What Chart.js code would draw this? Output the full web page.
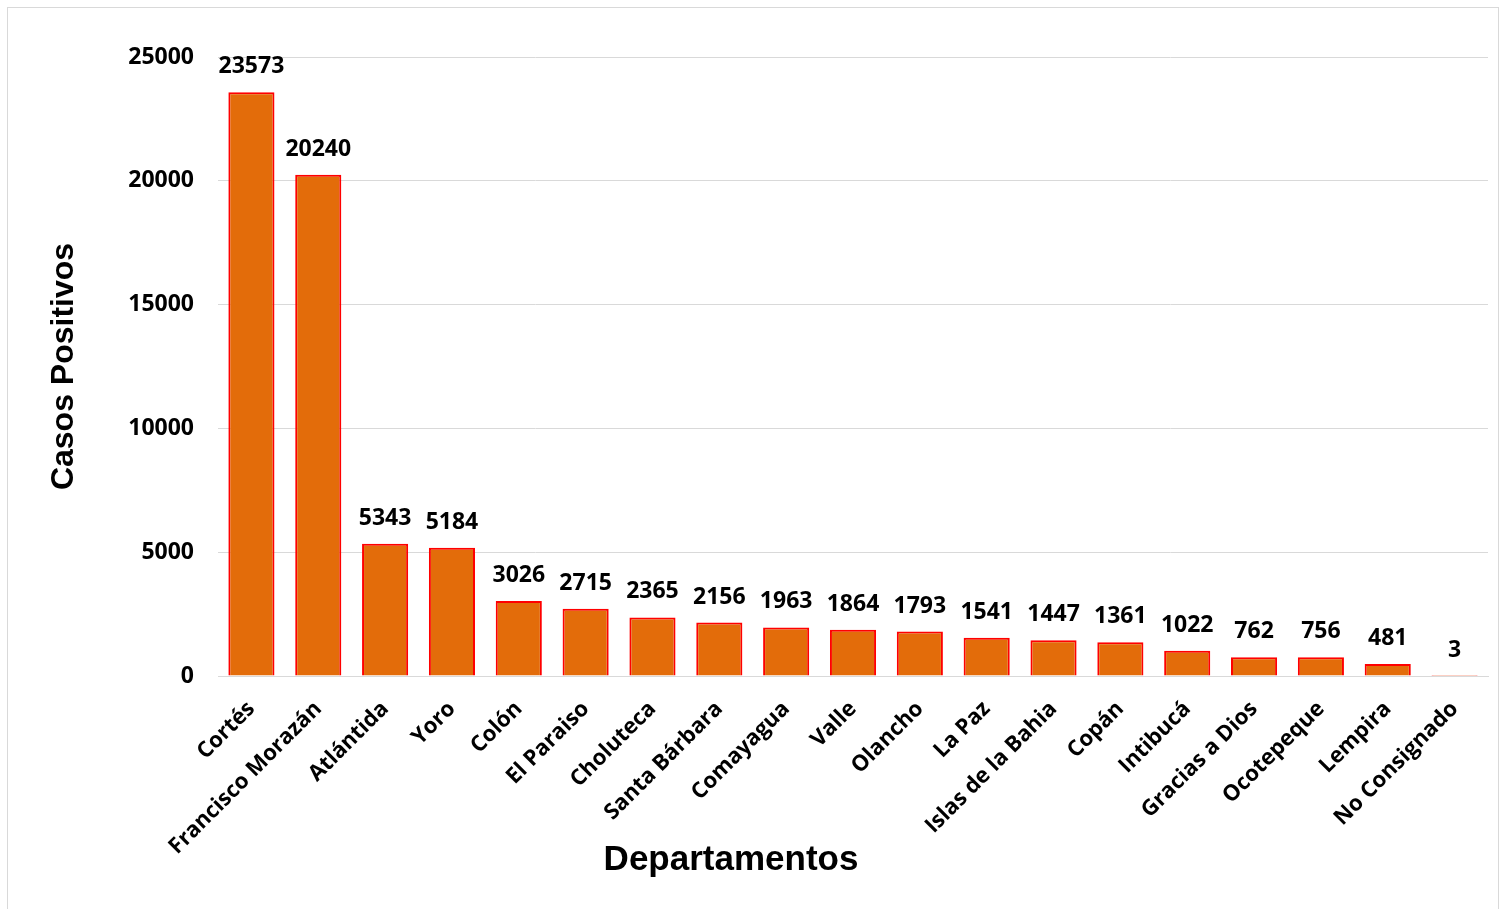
<!DOCTYPE html>
<html>
<head>
<meta charset="utf-8">
<script src="https://cdn.jsdelivr.net/npm/chart.js@4/dist/chart.umd.min.js"></script>
<style>
  body { margin: 0; background: #fff; }
  #wrap { position: relative; width: 1506px; height: 909px; overflow: hidden; }
  #frame { position: absolute; left: 7px; top: 7px; width: 1492px; height: 920px; border: 1px solid #d9d9d9; box-sizing: border-box; }
  canvas { position: absolute; left: 0; top: 0; }
</style>
</head>
<body>
<div id="wrap">
  <div id="frame"></div>
  <canvas id="casos" width="1506" height="909"></canvas>
</div>
<script>
// departamentos y casos positivos
const departamentos = ['Cortés', 'Francisco Morazán', 'Atlántida', 'Yoro', 'Colón', 'El Paraiso',
  'Choluteca', 'Santa Bárbara', 'Comayagua', 'Valle', 'Olancho', 'La Paz', 'Islas de la Bahia',
  'Copán', 'Intibucá', 'Gracias a Dios', 'Ocotepeque', 'Lempira', 'No Consignado'];
const casos = [23573, 20240, 5343, 5184, 3026, 2715, 2365, 2156, 1963, 1864, 1793, 1541, 1447,
  1361, 1022, 762, 756, 481, 3];
const yTicks = [0, 5000, 10000, 15000, 20000, 25000];

const tickFamily = '"Open Sans", Lato, sans-serif';
const labelFont = 'bold 23px ' + tickFamily;

// numbers above bars
const valueLabels = {
  id: 'valueLabels',
  afterDatasetsDraw(chart) {
    const ctx = chart.ctx;
    const meta = chart.getDatasetMeta(0);
    ctx.save();
    ctx.font = labelFont;
    ctx.fillStyle = '#000';
    ctx.textAlign = 'center';
    ctx.textBaseline = 'alphabetic';
    meta.data.forEach((bar, i) => {
      ctx.fillText(String(casos[i]), bar.x, bar.y - 19);
    });
    ctx.restore();
  }
};

// x axis title sits left of centre in the original
const xTitle = {
  id: 'xTitle',
  afterDraw(chart) {
    const ctx = chart.ctx;
    ctx.save();
    ctx.font = 'bold 35px "Liberation Sans", Arial, sans-serif';
    ctx.fillStyle = '#000';
    ctx.textAlign = 'center';
    ctx.textBaseline = 'middle';
    ctx.fillText('Departamentos', 731, 860);
    ctx.restore();
  }
};

new Chart(document.getElementById('casos').getContext('2d'), {
  type: 'bar',
  data: {
    labels: departamentos,
    datasets: [{
      label: 'Casos Positivos',
      data: casos,
      backgroundColor: '#E36C0A',
      borderColor: '#FF0000',
      borderWidth: 2,
      barPercentage: 0.69,
      categoryPercentage: 1
    }]
  },
  options: {
    responsive: false,
    animation: false,
    devicePixelRatio: 1,
    layout: { padding: { top: 57, right: 18, left: 0, bottom: 0 } },
    plugins: {
      legend: { display: false },
      tooltip: { enabled: false }
    },
    scales: {
      x: {
        grid: { display: false, drawTicks: false },
        border: { display: true, color: '#d9d9d9', width: 1 },
        ticks: {
          color: '#000',
          font: { family: tickFamily, size: 22, weight: 'bold' },
          minRotation: 45,
          maxRotation: 45,
          autoSkip: false,
          padding: 20
        },
        afterFit(scale) { scale.height = 233; }
      },
      y: {
        min: 0,
        max: 25000,
        grid: { color: '#d9d9d9', drawTicks: false },
        border: { display: false },
        ticks: {
          stepSize: 5000,
          color: '#000',
          padding: 24,
          font: { family: tickFamily, size: 23, weight: 'bold' },
          callback: (v) => yTicks.includes(v) ? String(v) : ''
        },
        title: {
          display: true,
          text: 'Casos Positivos',
          color: '#000',
          font: { family: '"Liberation Sans", Arial, sans-serif', size: 32, weight: 'bold' },
          padding: { top: 45, bottom: 0 }
        },
        afterFit(scale) { scale.width = 218; }
      }
    }
  },
  plugins: [valueLabels, xTitle]
});
</script>
</body>
</html>
